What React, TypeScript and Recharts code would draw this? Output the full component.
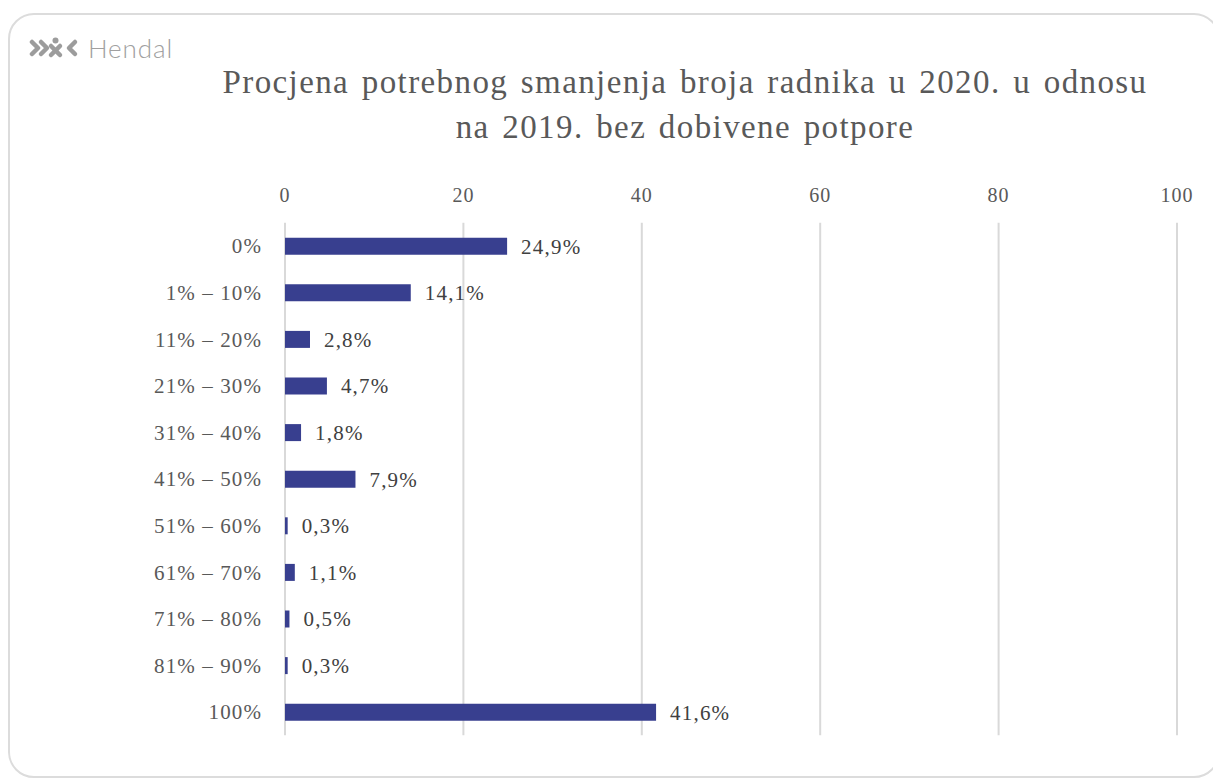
import React from "react";
import { BarChart, Bar, XAxis, YAxis, CartesianGrid, LabelList } from "recharts";

// Raspon smanjenja broja radnika
const categories = [
  "0%",
  "1% – 10%",
  "11% – 20%",
  "21% – 30%",
  "31% – 40%",
  "41% – 50%",
  "51% – 60%",
  "61% – 70%",
  "71% – 80%",
  "81% – 90%",
  "100%",
];

// Udio poduzeća (%)
const shares = [24.9, 14.1, 2.8, 4.7, 1.8, 7.9, 0.3, 1.1, 0.5, 0.3, 41.6];

const xTicks = [0, 20, 40, 60, 80, 100];

const titleLines = [
  "Procjena potrebnog smanjenja broja radnika u 2020. u odnosu",
  "na 2019. bez dobivene potpore",
];

const data = categories.map((name, i) => ({ name, value: shares[i] }));

const FONT = "'Liberation Serif', 'Times New Roman', serif";
const TEXT = "#595959";

const formatPct = (v: number) => `${v.toFixed(1).replace(".", ",")}%`;

// tick numbers above the plot area
const TopTick = (props: any) => {
  const { x, payload } = props;
  return (
    <text
      x={x}
      y={194}
      textAnchor="middle"
      fill={TEXT}
      fontSize={20}
      letterSpacing={1}
      fontFamily={FONT}
    >
      {payload.value}
    </text>
  );
};

function Logo() {
  return (
    <div style={{ position: "absolute", left: 21, top: 28, display: "flex", alignItems: "center" }}>
      <svg width="50" height="22" viewBox="0 0 50 22">
        <g fill="none" stroke="#9c9c9c" strokeWidth="4.5" strokeLinecap="round" strokeLinejoin="round">
          <polyline points="3,5 9,11 3,17" />
          <polyline points="12,5 18,11 12,17" />
          <line x1="22" y1="9" x2="31" y2="18" />
          <line x1="31" y1="9" x2="22" y2="18" />
          <polyline points="46,5 40,11 46,17" />
        </g>
        <circle cx="26.5" cy="3.5" r="3" fill="#9c9c9c" />
      </svg>
      <span
        style={{
          marginLeft: 9,
          fontFamily: "Lato, 'Open Sans', sans-serif",
          fontWeight: 300,
          fontSize: 26,
          letterSpacing: 0.9,
          color: "#a0a0a0",
          lineHeight: "24px",
        }}
      >
        Hendal
      </span>
    </div>
  );
}

export default function App() {
  return (
    <div style={{ position: "relative", width: 1213, height: 772, overflow: "hidden" }}>
      {/* card frame */}
      <div
        style={{
          position: "absolute",
          left: 0,
          top: 5,
          width: 1212,
          height: 765,
          border: "2px solid #dcdcdc",
          borderRadius: 26,
          boxSizing: "border-box",
        }}
      />
      <Logo />
      <div
        style={{
          position: "absolute",
          left: 0,
          top: 52,
          width: 1354,
          textAlign: "center",
          fontFamily: FONT,
          fontSize: 33,
          lineHeight: "45px",
          color: TEXT,
          letterSpacing: 1.4,
          wordSpacing: 3,
        }}
      >
        {titleLines.map((l) => (
          <div key={l}>{l}</div>
        ))}
      </div>
      <div style={{ position: "absolute", left: 0, top: 0 }}>
        <BarChart
          width={1213}
          height={772}
          data={data}
          layout="vertical"
          margin={{ top: 184.7, right: 44, bottom: 44.7, left: 0 }}
          barSize={17}
        >
          <CartesianGrid horizontal={false} stroke="#d9d9d9" strokeWidth={2} />
          <XAxis
            type="number"
            orientation="top"
            domain={[0, 100]}
            ticks={xTicks}
            height={30}
            axisLine={false}
            tickLine={false}
            tick={<TopTick />}
          />
          <YAxis
            type="category"
            dataKey="name"
            width={277}
            axisLine={false}
            tickLine={false}
            tickSize={0}
            tickMargin={23}
            tick={{ fill: TEXT, fontSize: 21, fontFamily: FONT, letterSpacing: 1.1 }}
          />
          <Bar dataKey="value" fill="#383f8f" isAnimationActive={false}>
            <LabelList
              dataKey="value"
              position="right"
              offset={14}
              formatter={(v: any) => formatPct(Number(v))}
              style={{ fill: "#404040", fontSize: 21, fontFamily: FONT, letterSpacing: 1.2 }}
            />
          </Bar>
        </BarChart>
      </div>
    </div>
  );
}
